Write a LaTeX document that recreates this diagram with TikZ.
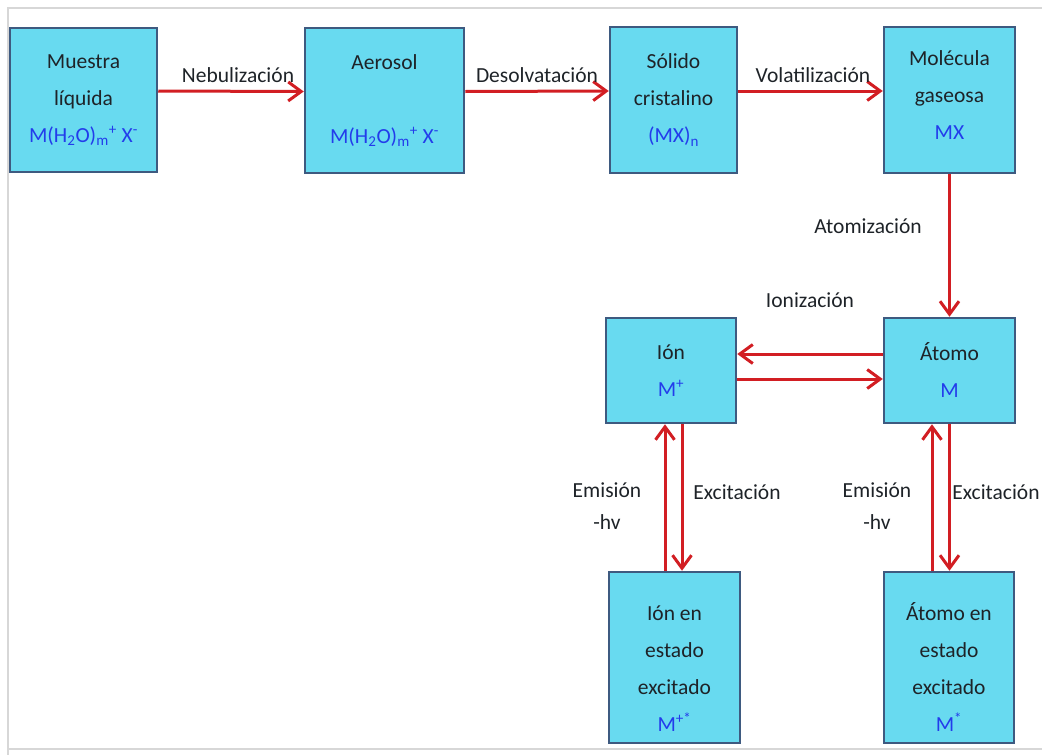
\documentclass[tikz,border=0pt]{standalone}
\usepackage{fontspec}
\setmainfont{Carlito}
\usepackage{tikz}
\usetikzlibrary{arrows.meta}

\definecolor{boxfill}{RGB}{104,218,240}
\definecolor{boxedge}{RGB}{62,90,128}
\definecolor{flowred}{RGB}{210,30,35}
\definecolor{formblue}{RGB}{35,60,235}
\definecolor{labelgray}{RGB}{30,35,40}
\definecolor{framegray}{RGB}{215,215,215}

\begin{document}
\begin{tikzpicture}[x=1pt,y=1pt,yscale=-1,
  stage/.style={draw=boxedge,line width=2.5pt,fill=boxfill,inner sep=0pt,
    align=center,text=labelgray,font=\fontsize{21.5}{37}\selectfont},
  flow/.style={draw=flowred,line width=3pt,-{Straight Barb[length=13pt,width=19pt,line width=3pt]}},
  steplabel/.style={text=labelgray,inner sep=0pt,align=center,font=\fontsize{21.5}{32}\selectfont}]
\useasboundingbox (0,0) rectangle (1042,755);

% frame of the screenshot
\draw [framegray,line width=2pt] (8,755) -- (8,8) -- (1042,8);
\draw [framegray,line width=2pt] (8,749) -- (1042,749);

% top row
\node [stage,minimum width=147pt,minimum height=144pt] (muestra) at (83.5,100)
  {Muestra\\líquida\\\textcolor{formblue}{M(H\textsubscript{2}O)\textsubscript{m}\textsuperscript{+} X\textsuperscript{-}}};
\node [stage,minimum width=159pt,minimum height=145pt] (aerosol) at (384.5,100.5)
  {Aerosol\\\mbox{}\\\textcolor{formblue}{M(H\textsubscript{2}O)\textsubscript{m}\textsuperscript{+} X\textsuperscript{-}}};
\node [stage,minimum width=127pt,minimum height=146pt] (solido) at (673.5,100)
  {Sólido\\cristalino\\\textcolor{formblue}{(MX)\textsubscript{n}}};
\node [stage,minimum width=131pt,minimum height=146pt] (molecula) at (949.5,100)
  {Molécula\\gaseosa\\\textcolor{formblue}{MX}\rule[-10pt]{0pt}{10pt}};

% middle row
\node [stage,minimum width=131pt,minimum height=105pt] (atomo) at (949.5,370.5)
  {Átomo\\\textcolor{formblue}{M}};
\node [stage,minimum width=130pt,minimum height=105pt] (ion) at (671,370.5)
  {Ión\\\textcolor{formblue}{M\textsuperscript{+}}};

% excited states
\node [stage,minimum width=131pt,minimum height=171pt] (ionexc) at (674.5,657.5)
  {\rule{0pt}{36pt}Ión en\\estado\\excitado\\\textcolor{formblue}{M\textsuperscript{+*}}};
\node [stage,minimum width=130pt,minimum height=171pt] (atomoexc) at (949,657.5)
  {\rule{0pt}{36pt}Átomo en\\estado\\excitado\\\textcolor{formblue}{M\textsuperscript{*}}};

% arrows
\draw [flow] ([yshift=-9pt]muestra.east) -- ([yshift=-9pt]aerosol.west);
\draw [flow] ([yshift=-9pt]aerosol.east) -- ([yshift=-9pt]solido.west);
\draw [flow] ([yshift=-9pt]solido.east) -- ([yshift=-9pt]molecula.west);
\draw [flow] (molecula) -- (atomo);
\draw [flow] ([yshift=-16.5pt]atomo.west) -- ([yshift=-16.5pt]ion.east);
\draw [flow] ([yshift=8.5pt]ion.east) -- ([yshift=8.5pt]atomo.west);
\draw [flow] ([xshift=-9.5pt]ionexc.north) -- ([xshift=-9.5pt]ionexc.north |- ion.south);
\draw [flow] ([xshift=11pt]ion.south) -- ([xshift=11pt]ion.south |- ionexc.north);
\draw [flow] ([xshift=-17pt]atomoexc.north) -- ([xshift=-17pt]atomoexc.north |- atomo.south);
\draw [flow] (atomo.south) -- (atomo.south |- atomoexc.north);

% labels
\node [steplabel] (nebul) at (238,75) {Nebulización};
\node [steplabel] (desolv) at (537,75) {Desolvatación};
\node [steplabel] (volat) at (813,75) {Volatilización};
\node [steplabel] (atomiz) at (868,226) {Atomización};
\node [steplabel] (ioniz) at (810,300) {Ionización};
\node [steplabel] (emisionA) at (607,506) {Emisión\\-hv};
\node [steplabel] (excitA) at (737,492) {Excitación};
\node [steplabel] (emisionB) at (877,506) {Emisión\\-hv};
\node [steplabel] (excitB) at (996,492) {Excitación};

\end{tikzpicture}
\end{document}
